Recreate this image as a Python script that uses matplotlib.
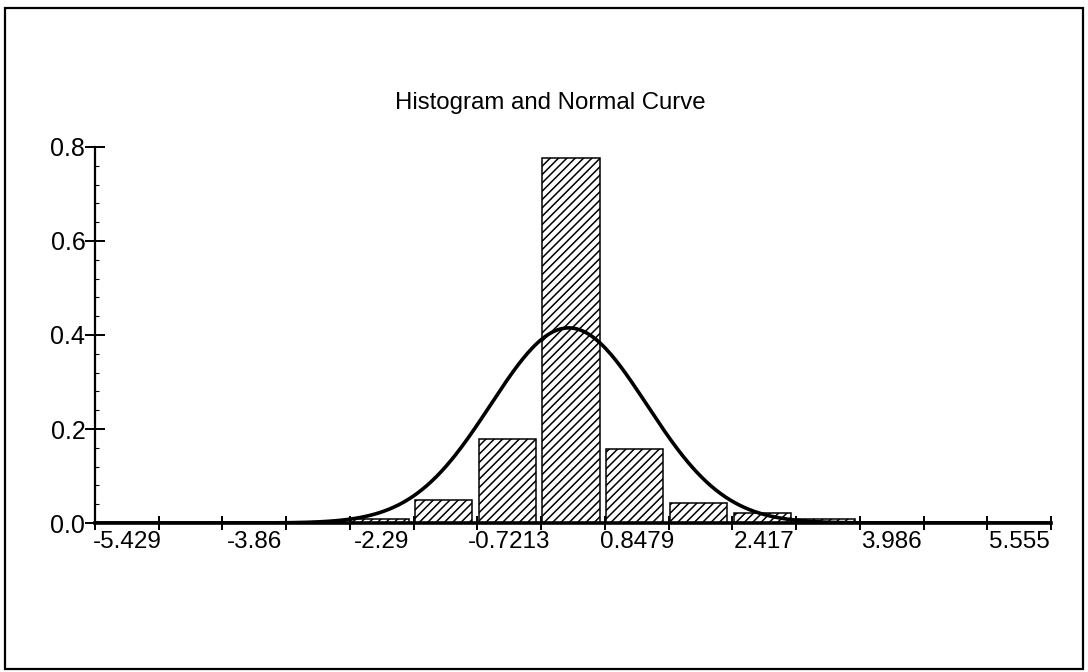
import matplotlib
matplotlib.use("Agg")
import matplotlib.pyplot as plt
from matplotlib.patches import Rectangle
import numpy as np


# bin centres of the labelled bins and the labels as printed
LABEL_VALUES = [-5.429, -3.86, -2.29, -0.7213, 0.8479, 2.417, 3.986, 5.555]
LABEL_TEXT = ["-5.429", "-3.86", "-2.29", "-0.7213", "0.8479", "2.417", "3.986", "5.555"]

# density height of each of the 15 bins, left to right
BIN_HEIGHTS = [0.0, 0.001, 0.001, 0.002, 0.008, 0.049, 0.179, 0.777,
               0.157, 0.043, 0.021, 0.009, 0.003, 0.002, 0.0]

# fitted normal curve
NORMAL_MEAN = 0.01
NORMAL_SD = 0.961

Y_TICKS = [0.0, 0.2, 0.4, 0.6, 0.8]
TITLE = "Histogram and Normal Curve"


def main():
    plt.rcParams["font.family"] = ["Liberation Sans", "DejaVu Sans"]
    plt.rcParams["hatch.linewidth"] = 1.1

    bin_width = (LABEL_VALUES[1] - LABEL_VALUES[0]) / 2
    first_edge = LABEL_VALUES[0] - bin_width / 2
    edges = first_edge + bin_width * np.arange(len(BIN_HEIGHTS) + 1)

    fig = plt.figure(figsize=(10.88, 6.72), dpi=100)
    ax = fig.add_axes([0.0873, 0.2217, 0.8787, 0.5596])

    ax.bar(edges[:-1] + 0.02 * bin_width, BIN_HEIGHTS, width=0.9 * bin_width,
           align="edge", color="white", edgecolor="black", linewidth=1.1,
           hatch="////", zorder=2)

    xs = np.linspace(edges[0], edges[-1], 600)
    ys = np.exp(-0.5 * ((xs - NORMAL_MEAN) / NORMAL_SD) ** 2) / (NORMAL_SD * np.sqrt(2 * np.pi))
    ax.plot(xs, ys, color="black", linewidth=2.6, zorder=3)

    ax.set_xlim(edges[0], edges[-1])
    ax.set_ylim(0, 0.8)

    ax.spines["top"].set_visible(False)
    ax.spines["right"].set_visible(False)
    ax.spines["bottom"].set_linewidth(2.6)
    ax.spines["left"].set_linewidth(1.6)

    ax.set_xticks(LABEL_VALUES)
    ax.set_xticklabels(LABEL_TEXT)
    ax.set_xticks(edges, minor=True)
    ax.tick_params(axis="x", which="major", length=0, pad=6, labelsize=17.5)
    ax.tick_params(axis="x", which="minor", direction="inout", length=10, width=1.4)

    ax.set_yticks(Y_TICKS)
    ax.set_yticklabels([f"{v:.1f}" for v in Y_TICKS])
    ax.set_yticks(np.arange(0, 0.81, 0.04), minor=True)
    ax.tick_params(axis="y", which="major", direction="inout", length=14, width=1.4,
                   pad=0, labelsize=18)
    ax.tick_params(axis="y", which="minor", direction="in", length=3, width=0.8)

    fig.text(0.506, 0.846, TITLE, ha="center", va="center", fontsize=17.3)

    fig.patches.append(Rectangle((0.005, 0.005), 0.99, 0.983, transform=fig.transFigure,
                                 fill=False, edgecolor="black", linewidth=1.6))

    fig.savefig("out.png", dpi=100)


if __name__ == "__main__":
    main()
